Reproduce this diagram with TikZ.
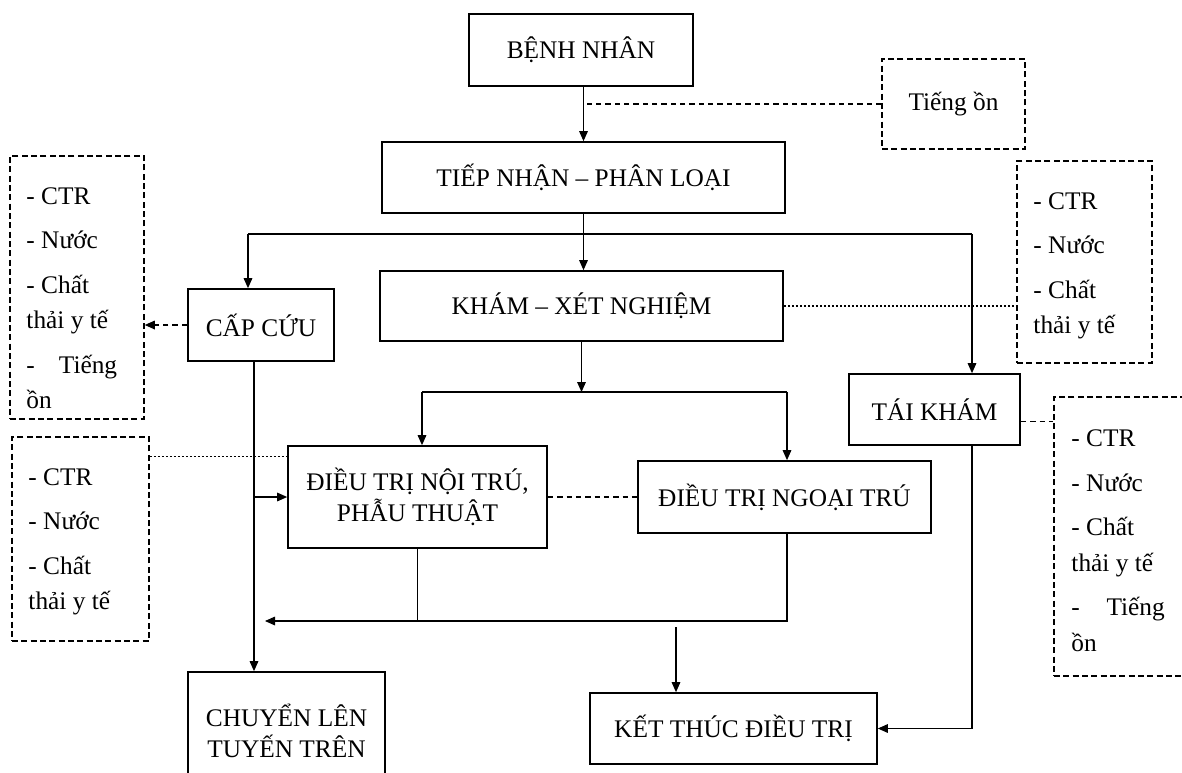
\documentclass[tikz,border=0pt]{standalone}
\usepackage{fontspec}
\setmainfont{Liberation Serif}
\usetikzlibrary{arrows.meta}

\begin{document}
\begin{tikzpicture}[x=0.75pt, y=-0.75pt,
  sz/.style 2 args={minimum width=#1*0.75pt, minimum height=#2*0.75pt},
  proc/.style={draw, line width=1.3pt, inner sep=0pt, align=center,
    font=\fontsize{19}{23.25}\selectfont},
  dbox/.style={draw, line width=1.2pt, inner sep=0pt,
    dash pattern=on 4.5pt off 2.5pt},
  listtxt/.style={inner sep=0pt, anchor=north west, align=left,
    font=\fontsize{19}{26.5}\selectfont},
  link/.style={line width=0.8pt},
  arr/.style={link, -{Triangle[length=7.5pt,width=6.5pt]}},
  dsh/.style={line width=0.9pt, dash pattern=on 4pt off 3pt},
  dsharr/.style={dsh, -{Triangle[length=7.5pt,width=6.5pt]}},
  dot/.style={line width=0.9pt, dash pattern=on 1.5pt off 1.5pt}]

\useasboundingbox (0,0) rectangle (1182,772);

% process boxes
\node[proc, sz={224}{72}] (bn) at (581,50) {BỆNH NHÂN};
\node[proc, sz={403}{71}] (tn) at (583.5,177.5) {TIẾP NHẬN – PHÂN LOẠI};
\node[proc, sz={403}{70}] (kx) at (581.5,306) {KHÁM – XÉT NGHIỆM};
\node[proc, sz={146}{72}] (cc) at (261,325) {CẤP CỨU};
\node[proc, sz={171}{71}] (tk) at (934.5,409.5) {TÁI KHÁM};
\node[proc, sz={259}{102}] (nt) at (417.5,497) {ĐIỀU TRỊ NỘI TRÚ,\\PHẪU THUẬT};
\node[proc, sz={293}{72}] (ng) at (784.5,497) {ĐIỀU TRỊ NGOẠI TRÚ};
\node[proc, sz={287}{71}] (kt) at (733.5,728.5) {KẾT THÚC ĐIỀU TRỊ};
\node[proc, sz={197}{118}] (cl) at (286.5,731) {CHUYỂN LÊN\\TUYẾN TRÊN};

% waste / emission boxes
\node[dbox, sz={143}{90}, font=\fontsize{19}{23.25}\selectfont] (tieng) at (953.5,104) {Tiếng ồn};

\node[dbox, sz={134}{263}] (l1) at (77,287.5) {};
\node[listtxt] (l1t) at ([shift={(12.75pt,-24pt)}]l1.north west)
  {- CTR\\[7pt]- Nước\\[7pt]- Chất\\thải y tế\\[7pt]\makebox[68pt]{-\hfill Tiếng}\\ồn};

\node[dbox, sz={137}{204}] (l2) at (80.5,539) {};
\node[listtxt] (l2t) at ([shift={(12.75pt,-24pt)}]l2.north west)
  {- CTR\\[7pt]- Nước\\[7pt]- Chất\\thải y tế};

\node[dbox, sz={135}{202}] (r1) at (1084.5,262) {};
\node[listtxt] (r1t) at ([shift={(12.75pt,-24pt)}]r1.north west)
  {- CTR\\[7pt]- Nước\\[7pt]- Chất\\thải y tế};

\node[dbox, sz={146}{279}] (r2) at (1127,536.5) {};
\node[listtxt] (r2t) at ([shift={(13.5pt,-25pt)}]r2.north west)
  {- CTR\\[7pt]- Nước\\[7pt]- Chất\\thải y tế\\[7pt]\makebox[70pt]{-\hfill Tiếng}\\ồn};

% junction points
\coordinate (splitL) at (248,234);
\coordinate (splitR) at (972,234);
\coordinate (ccv) at (254,361);
\coordinate (split2L) at (422,392);
\coordinate (split2R) at (787,392);
\coordinate (mergeR) at (787,621);
\coordinate (mergeL) at (265,621);
\coordinate (ktin) at (676,627);

% main flow
\draw[arr] (bn.south -| tn.north) -- (tn.north);
\draw[dsh] (tieng.west) -- (tieng.west -| tn.north);
\draw[arr] (tn.south) -- (tn.south |- kx.north);
\draw[link] (splitL) -- (splitR);
\draw[arr] (splitL) -- (cc.north -| splitL);
\draw[arr] (splitR) -- (tk.north -| splitR);
\draw[dot] (kx.east) -- (kx.east -| r1.west);
\draw[dsharr] (cc.west) -- (cc.west -| l1.east);

\draw[arr] (ccv) -- (cl.north -| ccv);
\draw[arr] (nt.west -| ccv) -- (nt.west);
\draw[dot] ([yshift=-15pt]l2.north east) -- ([yshift=-15pt]l2.north east -| nt.west);

\draw[arr] (kx.south) -- (kx.south |- split2L);
\draw[link] (split2L) -- (split2R);
\draw[arr] (split2L) -- (split2L |- nt.north);
\draw[arr] (split2R) -- (split2R |- ng.north);
\draw[dsh] (nt.east) -- (ng.west);

\draw[arr] (ng.south -| mergeR) -- (mergeR) -- (mergeL);
\draw[link] (nt.south) -- (nt.south |- mergeL);
\draw[arr] (ktin) -- (ktin |- kt.north);

\draw[arr] (tk.south -| splitR) -- (splitR |- kt.east) -- (kt.east);
\draw[dsh] ([yshift=-9pt]tk.east) -- ([yshift=-9pt]tk.east -| r2.west);

\end{tikzpicture}
\end{document}
